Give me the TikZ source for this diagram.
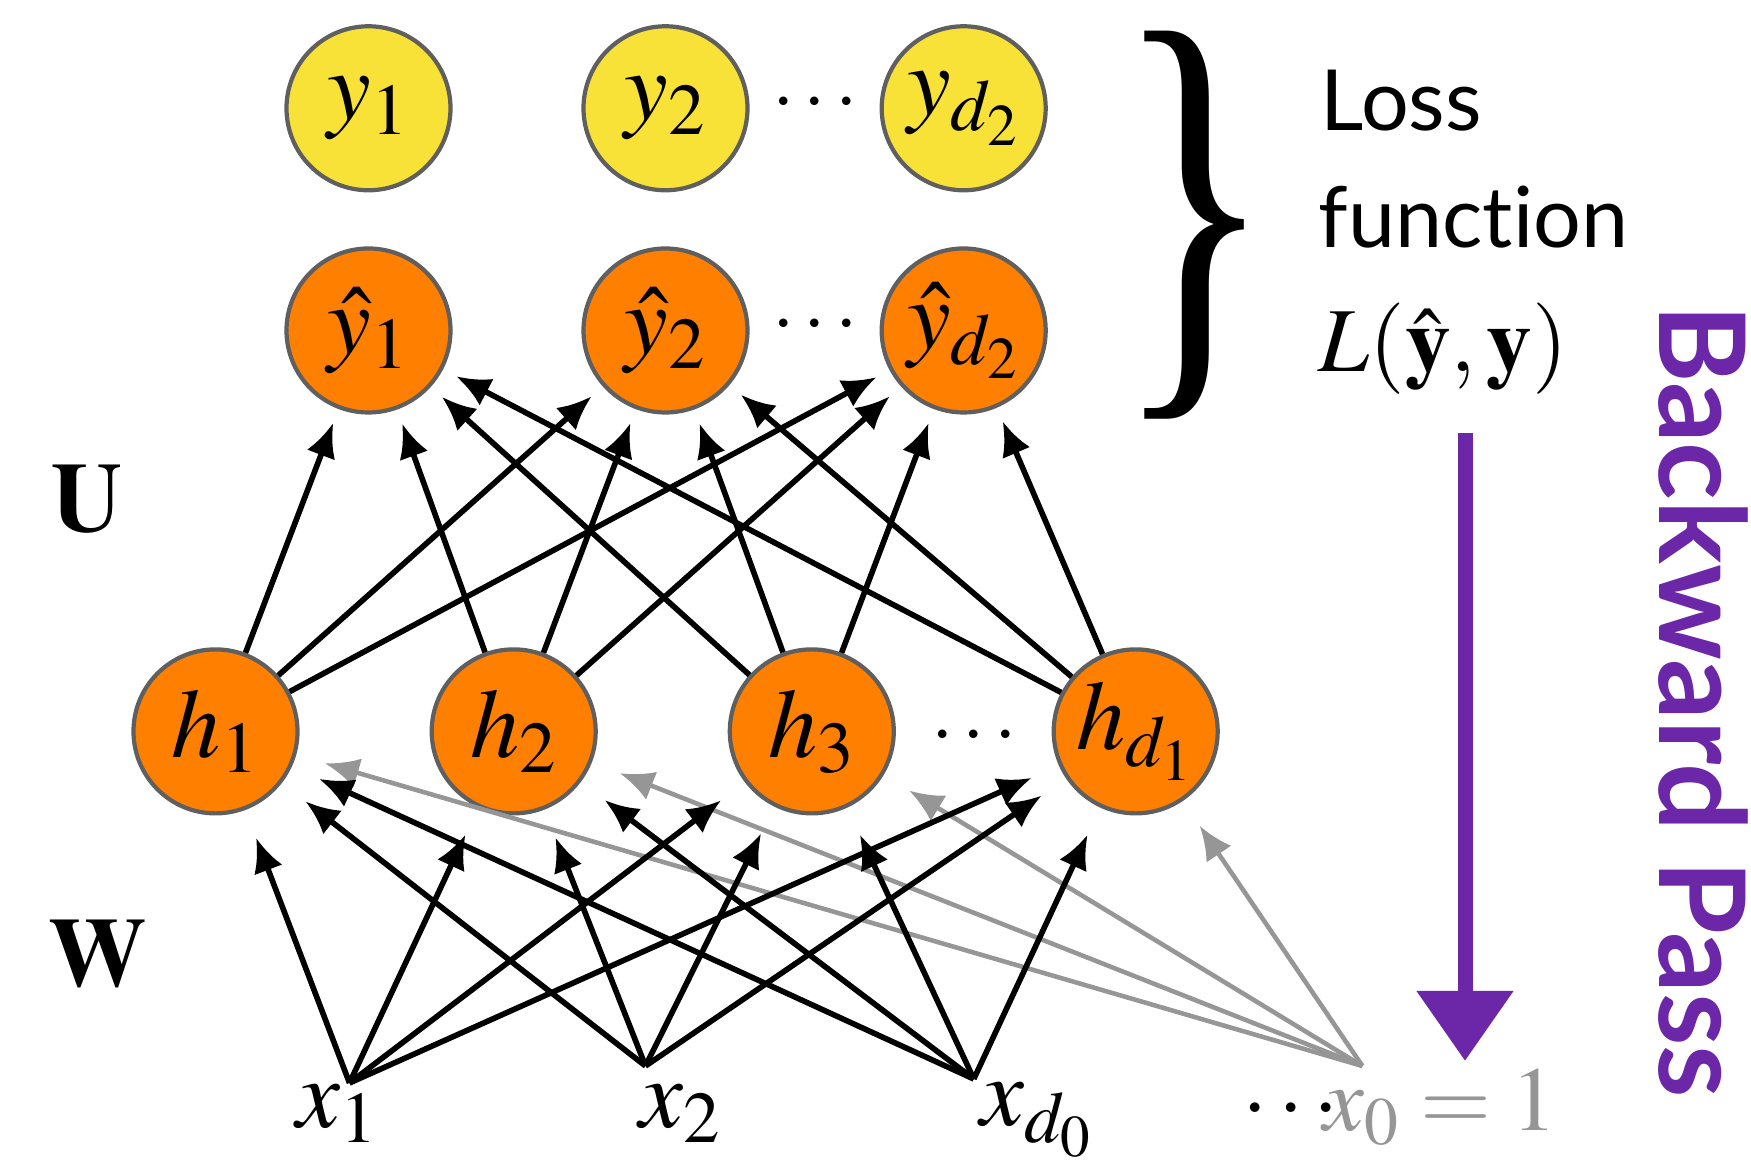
\documentclass[tikz,border=0pt]{standalone}
\usepackage{mathptmx}
\usepackage[no-math]{fontspec}
\usepackage{graphicx}
\usepackage{xcolor}
\usepackage{tikz}
\usetikzlibrary{arrows.meta}
\newfontfamily\lossfont[Ligatures=NoCommon]{Lato}
\newfontfamily\bracefont{Liberation Serif}
\definecolor{targetyellow}{RGB}{248,226,56}
\definecolor{unitorange}{RGB}{255,128,0}
\definecolor{nodegray}{RGB}{95,95,95}
\definecolor{biasgray}{RGB}{150,150,150}
\definecolor{passpurple}{RGB}{107,39,168}
\tikzset{
    neuron/.style={circle, draw=nodegray, line width=1.2pt, minimum size=1.64cm, inner sep=0pt, font=\fontsize{28}{28}\selectfont},
    target/.style={neuron, fill=targetyellow},
    unit/.style={neuron, fill=unitorange},
    mathtext/.style={inner sep=0pt, font=\fontsize{28}{28}\selectfont},
    dots/.style={inner sep=0pt, font=\fontsize{23}{23}\selectfont},
    losstext/.style={inner sep=0pt, anchor=base west, font=\lossfont\fontsize{24}{24}\selectfont},
    line/.style={draw, -{Latex[length=0.34cm,width=0.3cm]}, line width=1.6pt, shorten >=0.15cm},
    inline/.style={line, shorten >=0.3cm},
    biasline/.style={inline, draw=biasgray, line width=1.3pt}
}
\begin{document}
\begin{tikzpicture}
    \useasboundingbox (0,0) rectangle (17.51,11.64);

    \node[target] (y1) at (3.685,10.557) {$y_1$};
    \node[target] (y2) at (6.655,10.557) {$y_2$};
    \node[dots] (ydots) at (8.15,10.6) {$\cdots$};
    \node[target] (yd2) at (9.637,10.557) {$y_{d_2}$};

    \node[unit] (yh1) at (3.685,8.335) {$\hat{y}_1$};
    \node[unit] (yh2) at (6.655,8.335) {$\hat{y}_2$};
    \node[dots] (yhdots) at (8.15,8.38) {$\cdots$};
    \node[unit] (yhd2) at (9.637,8.335) {$\hat{y}_{d_2}$};

    \node[unit] (h1) at (2.155,4.326) {$h_1$};
    \node[unit] (h2) at (5.137,4.326) {$h_2$};
    \node[unit] (h3) at (8.118,4.326) {$h_3$};
    \node[dots] (hdots) at (9.74,4.27) {$\cdots$};
    \node[unit] (hd1) at (11.357,4.326) {$h_{d_1}$};

    \coordinate (s1) at (3.495,0.81);
    \coordinate (s2) at (6.455,0.98);
    \coordinate (sd0) at (9.738,0.85);
    \coordinate (s0) at (13.624,0.98);
    \node[mathtext, anchor=base west] (x1) at (2.96,0.36) {$x_1$};
    \node[mathtext, anchor=base west] (x2) at (6.39,0.36) {$x_2$};
    \node[mathtext, anchor=base west] (xd0) at (9.80,0.38) {$x_{d_0}$};
    \node[mathtext, anchor=base west, font=\fontsize{26}{26}\selectfont] (x0) at (12.42,0.33) {$\cdots\mkern-5mu\textcolor{biasgray}{x_0=1}$};

    \node[mathtext] (U) at (0.87,6.65) {$\mathbf{U}$};
    \node[mathtext] (W) at (0.98,2.10) {$\mathbf{W}$};

    \node[inner sep=0pt] (brace) at (11.95,9.39) {\resizebox*{1.6cm}{3.88cm}{\bracefont\}}};
    \node[losstext] (loss) at (13.2,10.33) {Loss};
    \node[losstext] (func) at (13.18,9.16) {function};
    \node[mathtext, anchor=base west, font=\fontsize{26}{26}\selectfont] (lossfn) at (13.18,7.92) {$L(\hat{\mathbf{y}},\mathbf{y})$};

    \coordinate (bptop) at (14.65,7.31);
    \coordinate (bptip) at (14.65,1.03);
    \draw[passpurple, line width=0.15cm, -{Triangle[width=0.93cm,length=0.7cm]}] (bptop) -- (bptip);
    \node[rotate=-90, text=passpurple, font=\lossfont\bfseries\fontsize{34}{34}\selectfont] (pass) at (17.03,4.63) {Backward Pass};

    \draw[line] (h1) -- (yh1);
    \draw[line] (h1) -- (yh2);
    \draw[line] (h1) -- (yhd2);
    \draw[line] (h2) -- (yh1);
    \draw[line] (h2) -- (yh2);
    \draw[line] (h2) -- (yhd2);
    \draw[line] (h3) -- (yh1);
    \draw[line] (h3) -- (yh2);
    \draw[line] (h3) -- (yhd2);
    \draw[line] (hd1) -- (yh1);
    \draw[line] (hd1) -- (yh2);
    \draw[line] (hd1) -- (yhd2);

    \draw[biasline] (s0) -- (h1);
    \draw[biasline] (s0) -- (h2);
    \draw[biasline] (s0) -- (h3);
    \draw[biasline] (s0) -- (hd1);

    \draw[inline] (s1) -- (h1);
    \draw[inline] (s1) -- (h2);
    \draw[inline] (s1) -- (h3);
    \draw[inline] (s1) -- (hd1);
    \draw[inline] (s2) -- (h1);
    \draw[inline] (s2) -- (h2);
    \draw[inline] (s2) -- (h3);
    \draw[inline] (s2) -- (hd1);
    \draw[inline] (sd0) -- (h1);
    \draw[inline] (sd0) -- (h2);
    \draw[inline] (sd0) -- (h3);
    \draw[inline] (sd0) -- (hd1);
\end{tikzpicture}
\end{document}
